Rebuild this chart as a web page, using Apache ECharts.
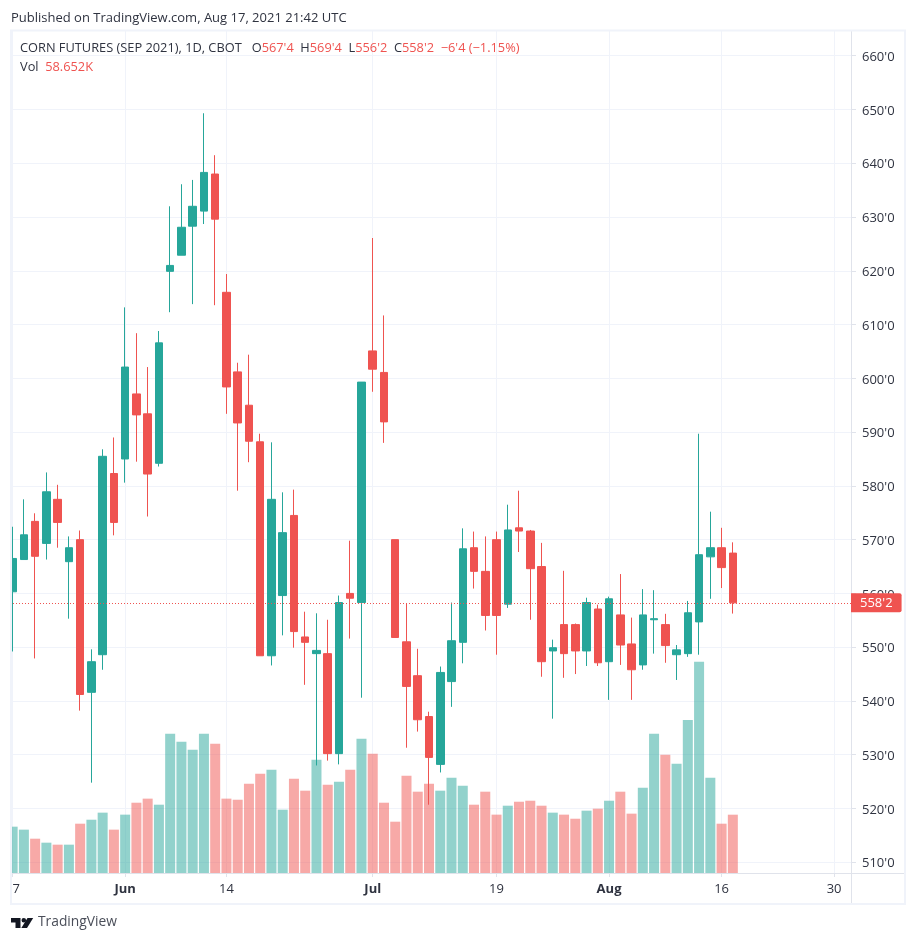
<!DOCTYPE html>
<html lang="en" style="height: 100%">

<head>
  <meta charset="utf-8">
  <style>
    html, body { height: 100%; margin: 0; background: #fff; }
    #chart { width: 916px; height: 943px; }
  </style>
</head>

<body>
  <div id="chart"></div>
  <script src="https://cdn.jsdelivr.net/npm/echarts@6/dist/echarts.min.js"></script>
  <script>
    const categories = [
      'May 17', 'May 18', 'May 19', 'May 20', 'May 21', 'May 24', 'May 25', 'May 26', 'May 27', 'May 28',
      'Jun 1', 'Jun 2', 'Jun 3', 'Jun 4', 'Jun 7', 'Jun 8', 'Jun 9', 'Jun 10', 'Jun 11',
      'Jun 14', 'Jun 15', 'Jun 16', 'Jun 17', 'Jun 18', 'Jun 21', 'Jun 22', 'Jun 23', 'Jun 24', 'Jun 25',
      'Jun 28', 'Jun 29', 'Jun 30', 'Jul 1', 'Jul 2', 'Jul 6', 'Jul 7', 'Jul 8', 'Jul 9',
      'Jul 12', 'Jul 13', 'Jul 14', 'Jul 15', 'Jul 16', 'Jul 19', 'Jul 20', 'Jul 21', 'Jul 22', 'Jul 23',
      'Jul 26', 'Jul 27', 'Jul 28', 'Jul 29', 'Jul 30', 'Aug 2', 'Aug 3', 'Aug 4', 'Aug 5', 'Aug 6',
      'Aug 9', 'Aug 10', 'Aug 11', 'Aug 12', 'Aug 13', 'Aug 16', 'Aug 17',
      'Aug 18', 'Aug 19', 'Aug 20', 'Aug 23', 'Aug 24', 'Aug 25', 'Aug 26', 'Aug 27', 'Aug 30', 'Aug 31'
    ];
    const opens = [
      560.3, 566.3, 573.4, 569.3, 577.5, 565.9, 570, 541.6, 548.6, 582.3,
      585, 597.1, 593.4, 584.2, 619.9, 622.9, 628.3, 631.1, 638,
      616, 601.2, 595, 588.2, 548.4, 559.6, 574.5, 551.9, 548.8, 548.8,
      530.2, 560, 558.3, 605.1, 601.1, 570, 551, 544.7, 537.1,
      528.2, 543.6, 550.9, 568.5, 564.1, 570, 558, 572.2, 571.6, 565,
      549.3, 554.2, 554.2, 549.3, 557.1, 547.3, 556, 550.6, 546.7, 555.1,
      554.2, 548.6, 548.8, 554.7, 566.8, 568.5, 567.5
    ];
    const closes = [
      566.5, 570.9, 566.9, 578.9, 573.2, 568.5, 541.2, 547.3, 585.5, 573.2,
      602.1, 593.2, 582.2, 606.6, 621, 628.1, 632, 638.3, 629.6,
      598.4, 591.7, 588.3, 548.4, 577.5, 571.3, 552.9, 550.9, 549.4, 530.2,
      558.3, 559.1, 599.3, 601.7, 591.9, 551.8, 542.7, 536.5, 529.5,
      545.3, 551.2, 568.3, 564.1, 555.9, 555.9, 571.8, 571.6, 564.6, 547.3,
      549.9, 548.8, 549.3, 558.3, 547.1, 559, 550.4, 545.8, 556, 555.3,
      550.3, 549.5, 556.4, 567.2, 568.5, 564.8, 558.25
    ];
    const lows = [
      549.2, 566.3, 547.9, 566.3, 568.5, 555.3, 538.2, 524.8, 545.8, 570.8,
      580.6, 584.5, 574.3, 583.6, 612.3, 622.9, 613.8, 628.7, 613.6,
      593.4, 579.1, 584.4, 548.4, 546.6, 552.2, 549.9, 543, 528, 528.9,
      528.2, 551.6, 540.6, 597.5, 588, 551.8, 531.3, 534.3, 520.7,
      526.7, 538.9, 547, 560.9, 553.1, 548.6, 557.3, 567.7, 555.1, 544.5,
      536.7, 544.3, 545, 546.5, 546.5, 540.2, 546.7, 540.2, 545.8, 548.8,
      547.1, 543.9, 548.2, 548.6, 559, 561, 556.25
    ];
    const highs = [
      572.4, 577.5, 574.9, 582.5, 580.2, 570.6, 571.7, 549.6, 586.8, 589,
      613.2, 608.4, 602.1, 608.8, 632, 636.1, 636.9, 649.3, 641.5,
      619.4, 602.9, 604.4, 589.7, 588.1, 578.8, 579.3, 556.6, 556.3, 555.1,
      559.6, 569.8, 599.3, 626.1, 611.7, 570, 558.1, 549.7, 538,
      546.4, 558.3, 572.1, 571.5, 570.6, 571.5, 576.5, 579.1, 571.8, 569.4,
      551.4, 564.2, 554.4, 559.2, 557.9, 559.4, 563.6, 555.5, 560.8, 560.6,
      556.2, 550.4, 558.6, 589.7, 575.2, 572.2, 569.5
    ];
    // thousands of contracts
    const volumes = [
      46.6, 43.6, 34.5, 30.5, 28.5, 28.5, 49.6, 53.6, 60.7, 43.6,
      58.7, 70.7, 74.8, 68.7, 140.1, 132.1, 124, 140.1, 130.1,
      74.8, 73.7, 89.8, 99.9, 103.9, 63.7, 94.9, 82.8, 114, 88.8,
      91.8, 103.9, 135.1, 120, 70.7, 51.6, 97.9, 81.8, 89.8,
      82.8, 95.9, 87.8, 68.7, 81.8, 58.7, 67.7, 71.7, 72.7, 67.7,
      60.7, 58.7, 54.6, 62.7, 64.7, 72.7, 81.8, 59.7, 85.8, 140.1,
      119, 109.9, 154, 212.5, 95.9, 49.6, 58.652
    ];
    const tickDates = ['May 17', 'Jun 1', 'Jun 14', 'Jul 1', 'Jul 19', 'Aug 2', 'Aug 16', 'Aug 30'];
    const tickLabels = ['7', 'Jun', '14', 'Jul', '19', 'Aug', '16', '30'];
    const priceTicks = [510, 520, 530, 540, 550, 560, 570, 580, 590, 600, 610, 620, 630, 640, 650, 660];
    const lastPrice = 558.25;

    const UP = '#26a69a';
    const DOWN = '#ef5350';
    const TEXT = '#2f3340';
    const GRID = '#f0f3fa';
    const SCALE = '#e0e3eb';
    const FONT = '"Open Sans", sans-serif';
    const HEAD = 12.8;

    const isTick = function (i) { return tickDates.indexOf(categories[i]) >= 0; };

    const myChart = echarts.init(document.getElementById('chart'), null, { renderer: 'canvas' });

    myChart.setOption({
      animation: false,
      backgroundColor: '#fff',
      textStyle: { fontFamily: FONT },
      title: [
        {
          text: 'Published on TradingView.com, Aug 17, 2021 21:42 UTC',
          left: 6, top: 7,
          textStyle: { fontSize: 13, fontWeight: 'normal', color: TEXT, fontFamily: FONT }
        },
        {
          text: "{b|CORN FUTURES (SEP 2021), 1D, CBOT   O}{r|567'4}{b|  H}{r|569'4}{b|  L}{r|556'2}{b|  C}{r|558'2}{r|  \u22126'4 (\u22121.15%)}",
          left: 15, top: 37,
          textStyle: {
            fontSize: HEAD, fontWeight: 'normal', fontFamily: FONT,
            rich: {
              b: { fontSize: HEAD, color: TEXT, fontFamily: FONT },
              r: { fontSize: HEAD, color: DOWN, fontFamily: FONT }
            }
          }
        },
        {
          text: '{b|Vol}{r|  58.652K}',
          left: 15, top: 56,
          textStyle: {
            fontSize: HEAD, fontWeight: 'normal', fontFamily: FONT,
            rich: {
              b: { fontSize: HEAD, color: TEXT, fontFamily: FONT },
              r: { fontSize: HEAD, color: DOWN, fontFamily: FONT }
            }
          }
        }
      ],
      grid: { left: 7, top: 31, width: 844, height: 842 },
      xAxis: {
        type: 'category',
        data: categories,
        boundaryGap: true,
        axisLine: { show: true, lineStyle: { color: SCALE } },
        axisTick: { show: true, alignWithLabel: true, length: 4, lineStyle: { color: SCALE },
          interval: function (i) { return isTick(i); } },
        splitLine: { show: true, alignWithLabel: true, lineStyle: { color: GRID },
          interval: function (i) { return isTick(i); } },
        axisLabel: {
          interval: 0,
          margin: 10,
          fontSize: 13,
          color: TEXT,
          fontFamily: FONT,
          formatter: function (value) {
            const k = tickDates.indexOf(value);
            if (k < 0) return '';
            const t = tickLabels[k];
            if (k === 0) return '{first|' + t + '}';
            return /[A-Za-z]/.test(t) ? '{month|' + t + '}' : t;
          },
          rich: {
            month: { fontWeight: 'bold', fontSize: 13, color: TEXT, fontFamily: FONT },
            first: { fontSize: 13, color: TEXT, fontFamily: FONT, padding: [0, 0, 0, 7] }
          }
        }
      },
      yAxis: [
        {
          type: 'value',
          position: 'right',
          min: 508,
          max: 664.6,
          axisLine: { show: true, lineStyle: { color: SCALE } },
          axisTick: { show: true, length: 5, lineStyle: { color: SCALE }, customValues: priceTicks },
          splitLine: { show: true, lineStyle: { color: GRID }, customValues: priceTicks },
          axisLabel: {
            margin: 11,
            fontSize: 13,
            color: TEXT,
            fontFamily: FONT,
            customValues: priceTicks,
            formatter: function (v) { return '{p|' + v + "'0}"; },
            rich: {
              p: { fontSize: 13, color: TEXT, fontFamily: FONT, padding: [3, 0, 0, 0] }
            }
          }
        },
        {
          type: 'value',
          show: false,
          min: 0,
          max: 847
        }
      ],
      series: [
        {
          type: 'bar',
          name: 'Vol',
          yAxisIndex: 1,
          barWidth: 10,
          silent: true,
          z: 1,
          data: volumes.map(function (v, i) {
            return {
              value: v,
              itemStyle: { color: closes[i] >= opens[i] ? UP : DOWN, opacity: 0.5 }
            };
          })
        },
        {
          type: 'candlestick',
          name: 'CORN FUTURES (SEP 2021)',
          barWidth: 8,
          silent: true,
          z: 3,
          itemStyle: { color: UP, color0: DOWN, borderColor: UP, borderColor0: DOWN, borderWidth: 1 },
          data: opens.map(function (o, i) { return [o, closes[i], lows[i], highs[i]]; }),
          markLine: {
            silent: true,
            symbol: 'none',
            animation: false,
            lineStyle: { color: DOWN, type: [1, 2], width: 1 },
            label: {
              show: true,
              position: 'end',
              distance: 0,
              formatter: "558'2",
              color: '#fff',
              fontSize: 13,
              fontFamily: FONT,
              backgroundColor: DOWN,
              padding: [3, 9, 3, 9],
              borderRadius: [0, 2, 2, 0]
            },
            data: [{ yAxis: lastPrice }]
          }
        }
      ],
      graphic: [
        // left margin, frame and scale separators around the plot
        { type: 'rect', z: 100, silent: true, shape: { x: 0, y: 29, width: 10, height: 876 }, style: { fill: '#fff' } },
        { type: 'rect', z: 101, silent: true, shape: { x: 11, y: 30.5, width: 894, height: 873.5 }, style: { fill: 'none', stroke: GRID, lineWidth: 2 } },
        { type: 'line', z: 1, silent: true, shape: { x1: 851.5, y1: 31, x2: 851.5, y2: 904 }, style: { stroke: SCALE, lineWidth: 1 } },
        { type: 'line', z: 1, silent: true, shape: { x1: 851, y1: 873.5, x2: 904, y2: 873.5 }, style: { stroke: SCALE, lineWidth: 1 } },
        // TradingView logo
        { type: 'polygon', z: 100, silent: true, shape: { points: [[11, 918], [20.5, 918], [20.5, 928], [15.5, 928], [15.5, 922.5], [11, 922.5]] }, style: { fill: '#131722' } },
        { type: 'circle', z: 100, silent: true, shape: { cx: 23.8, cy: 920.2, r: 2.3 }, style: { fill: '#131722' } },
        { type: 'polygon', z: 100, silent: true, shape: { points: [[27.5, 918], [33.2, 918], [27, 928], [21.3, 928]] }, style: { fill: '#131722' } },
        { type: 'text', z: 100, silent: true, style: { x: 38, y: 915, text: 'TradingView', fill: '#4a4e59', fontSize: 13.8, fontFamily: FONT } }
      ]
    });
  </script>
</body>

</html>
